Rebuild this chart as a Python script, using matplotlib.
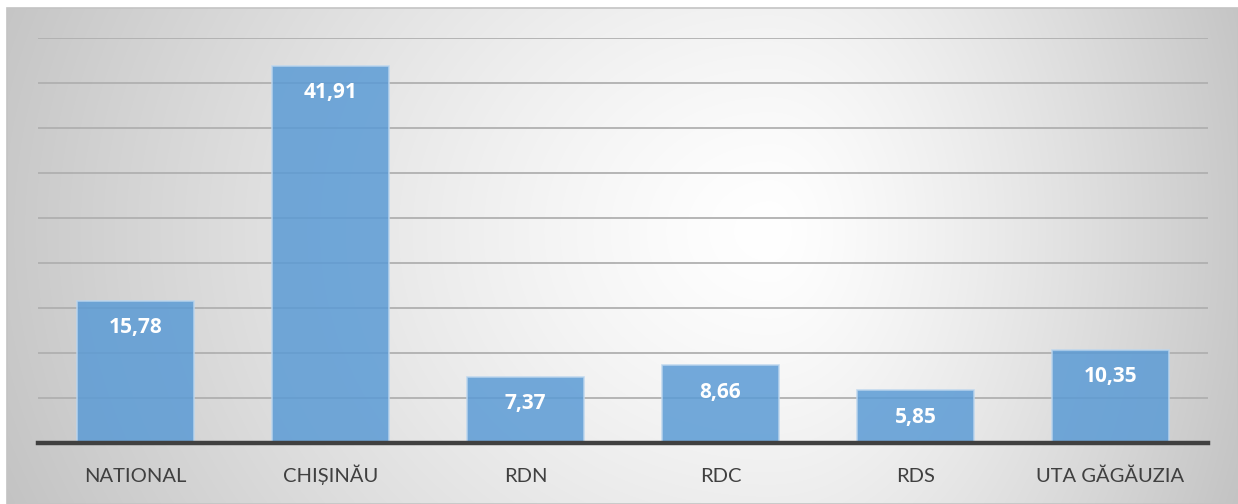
import numpy as np
import matplotlib
matplotlib.use("Agg")
import matplotlib.pyplot as plt
from matplotlib.patches import Rectangle

categories = ["NATIONAL", "CHIȘINĂU", "RDN", "RDC", "RDS", "UTA GĂGĂUZIA"]
values = [15.78, 41.91, 7.37, 8.66, 5.85, 10.35]
value_labels = ["15,78", "41,91", "7,37", "8,66", "5,85", "10,35"]

W, H = 1238, 504
fig = plt.figure(figsize=(W / 100, H / 100), dpi=100)
fig.patch.set_facecolor("white")

# background gradient
bg = fig.add_axes([7 / W, 0, 1 - 7 / W, 1 - 8 / H], zorder=0)
ny, nx = 200, 500
xx, yy = np.meshgrid(np.linspace(0, 1, nx), np.linspace(0, 1, ny))
cx, cy = 0.62, 0.55
sx = np.where(xx < cx, cx, 1 - cx)
d = np.sqrt(((xx - cx) / sx) ** 2 + ((yy - cy) / 1.3) ** 2)
d = np.clip(d, 0, 1.2)
val = 1.0 - 0.21 * d ** 1.3
img = np.dstack([val, val, val])
bg.imshow(img, origin="lower", aspect="auto", extent=[0, 1, 0, 1], interpolation="bilinear")
bg.set_xlim(0, 1)
bg.set_ylim(0, 1)
bg.axis("off")
bg.add_patch(Rectangle((0, 0), 1, 1, transform=bg.transAxes, fill=False,
                       edgecolor="#c4c4c4", linewidth=1.2, clip_on=False))

left, right = 38 / W, 1208 / W
bottom, top = (H - 443) / H, (H - 38) / H
ax = fig.add_axes([left, bottom, right - left, top - bottom], zorder=1)
ax.patch.set_alpha(0)

x = np.arange(len(categories))
ax.set_xlim(-0.5, len(categories) - 0.5)
ax.set_ylim(0, 45)
for gy in np.arange(5, 46, 5):
    ax.axhline(gy, color="#b0b0b0", linewidth=1.3, zorder=1)

ax.bar(x, values, width=0.6, color="#5b9bd5", alpha=0.85,
       edgecolor="#bcd6ee", linewidth=1.2, zorder=2)
ax.axhline(0, color="#404040", linewidth=3.2, zorder=3, clip_on=False)

for xi, v, lab in zip(x, values, value_labels):
    ax.annotate(lab, (xi, v), xytext=(0, -27), textcoords="offset pixels",
                ha="center", va="center", color="white", fontsize=15,
                fontweight="bold", family="Open Sans", zorder=4)

for xi, cat in zip(x, categories):
    ax.annotate(cat, (xi, 0), xytext=(0, -39), textcoords="offset pixels",
                ha="center", va="baseline", color="#404040", fontsize=14.5,
                family="Lato", annotation_clip=False)

ax.set_xticks([])
ax.set_yticks([])
for s in ax.spines.values():
    s.set_visible(False)

fig.savefig("out.png", dpi=100)
